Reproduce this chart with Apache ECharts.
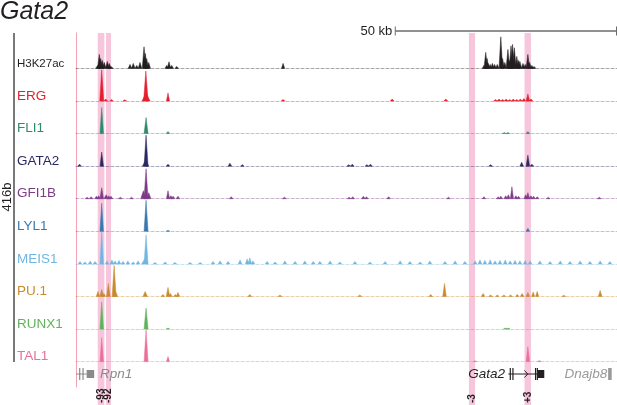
<!DOCTYPE html>
<html>
<head>
<meta charset="utf-8">
<script src="https://cdn.jsdelivr.net/npm/echarts@6/dist/echarts.min.js"></script>
<style>
  html, body { margin: 0; padding: 0; background: #fff; }
  #chart { width: 617px; height: 405px; }
</style>
</head>
<body>
<div id="chart"></div>
<script>
// window shown, in kb from the left edge of the tracks
const spanKb = 122;

const trackNames = ['H3K27ac', 'ERG', 'FLI1', 'GATA2', 'GFI1B', 'LYL1', 'MEIS1', 'PU.1', 'RUNX1', 'TAL1'];
const trackColors = ['#231f20', '#e4202e', '#2f8a6c', '#2a2961', '#7d3a86', '#3b78ae', '#70b6e0', '#c98a2e', '#5fb35a', '#ea6f9b'];

// peaks: [position kb, signal, half width kb (optional)]
const h3k27acPeaks = [
  [4.9, 3, 0.5], [5.25, 14], [5.57, 10], [5.93, 8], [6.38, 6], [7.06, 7], [7.51, 5], [7.9, 2, 0.5],
  [12.18, 4], [12.92, 5], [13.69, 3], [14.43, 6], [15.34, 21.6], [15.63, 15], [15.94, 10], [16.4, 6],
  [20.45, 3], [20.97, 6.6], [21.58, 3], [22.71, 2],
  [46.7, 5, 0.35],
  [92.0, 3], [92.4, 16], [92.7, 10], [92.95, 5], [93.4, 4], [93.9, 5], [94.4, 4], [95.0, 4],
  [95.8, 31.6], [96.2, 10], [96.7, 6], [97.4, 19], [97.8, 8], [98.1, 22.6], [98.45, 24], [98.85, 20.6],
  [99.4, 12], [99.8, 8], [100.1, 7], [100.8, 5], [101.3, 4], [101.9, 14], [102.3, 6], [102.8, 3], [103.3, 2]
];
const ergPeaks = [
  [5.8, 31, 0.45], [6.7, 2], [8.0, 1.5], [11.0, 1.2], [15.8, 8, 0.9], [15.75, 30, 0.5], [20.75, 8, 0.35],
  [46.7, 1.5], [71.3, 2], [83.4, 2], [94.6, 1.5], [95.4, 2], [96.2, 1.5], [97.0, 2], [97.8, 1.5],
  [98.6, 2], [99.4, 1.5], [100.2, 2], [101.0, 2.5], [101.9, 7], [102.6, 2]
];
const fli1Peaks = [
  [5.8, 26], [15.8, 16, 0.45], [20.75, 2], [96.6, 1], [97.4, 1], [101.9, 2]
];
const gata2Peaks = [
  [0.8, 2], [5.8, 14], [15.7, 6, 0.7], [15.8, 31, 0.45], [20.75, 2], [34.7, 3], [37.5, 1.5],
  [61.5, 1.5], [62.3, 2], [65.6, 1.5], [66.4, 2], [93.5, 1.5], [100.5, 4], [101.9, 11], [102.8, 2]
];
const gfi1bPeaks = [
  [2.5, 1.5], [3.4, 2], [4.6, 2.5], [5.1, 3], [5.8, 11], [6.8, 4, 0.5], [7.4, 3], [7.9, 2.5], [10.0, 1.5], [12.5, 1.5],
  [15.2, 8, 0.6], [15.8, 30, 0.45], [16.4, 6, 0.5], [20.75, 8, 0.35], [21.4, 3], [21.9, 2.5], [23.0, 2.5],
  [35.0, 2], [47.0, 1.5], [61.6, 1.5], [62.4, 2], [64.8, 2.5], [65.5, 2], [70.5, 2], [84.0, 1.5],
  [92.0, 2], [95.2, 2], [95.8, 2.5], [96.9, 3], [97.5, 4], [98.3, 12, 0.35], [99.2, 3], [99.8, 2.5],
  [101.4, 4], [101.9, 6], [102.6, 3], [103.2, 2.5], [104.0, 2], [106.5, 1.5], [118.0, 1.5]
];
const lyl1Peaks = [
  [5.8, 28], [15.8, 31, 0.45], [20.75, 1], [101.9, 3]
];
const meis1Peaks = [
  [0.9, 2.5], [2.0, 2], [3.2, 3], [4.3, 2.5], [5.8, 32], [7.0, 3], [8.1, 4], [8.8, 3], [9.7, 3.5],
  [10.6, 2.5], [11.7, 3], [12.9, 2], [14.0, 3], [15.5, 5, 0.7], [15.8, 29, 0.45], [17.8, 1.5], [20.1, 2],
  [22.3, 1.5], [25.7, 1.5], [28.0, 1.5], [30.9, 2.5], [32.5, 3], [34.3, 2.5], [37.0, 4], [38.6, 5],
  [39.2, 6], [39.9, 3], [43.1, 2.5], [44.9, 2], [47.1, 3], [49.4, 2.5], [51.6, 3], [53.5, 2.5],
  [55.0, 2.5], [57.3, 3], [59.5, 2], [62.9, 2.5], [66.3, 2], [69.7, 2.5], [73.1, 3], [75.3, 2.5],
  [77.6, 2], [79.8, 3], [83.2, 2.5], [85.5, 3], [87.7, 2.5], [90.0, 3], [91.1, 4], [92.2, 3.5],
  [93.4, 4], [94.5, 3], [95.6, 3.5], [96.8, 4], [97.9, 3], [99.0, 3.5], [100.1, 3], [101.3, 3.5],
  [102.4, 3], [104.6, 3], [106.9, 2.5], [109.2, 3], [111.4, 2.5], [113.7, 3], [115.9, 2.5], [118.2, 3], [120.4, 2.5]
];
const pu1Peaks = [
  [4.96, 5], [5.8, 7], [6.3, 3], [7.3, 13], [8.6, 31, 0.45], [8.9, 5, 0.5], [15.6, 5, 0.5], [19.6, 2],
  [20.75, 9], [21.3, 3], [22.4, 2], [23.0, 4], [39.2, 2], [46.0, 1.5], [64.0, 1.5],
  [80.0, 2], [83.1, 13], [91.8, 3], [93.5, 1.5], [95.0, 1.5], [96.5, 1.5], [98.0, 1.5], [99.5, 2],
  [100.6, 3], [101.9, 4], [103.1, 4.5, 0.35], [104.0, 5, 0.35], [110.0, 1.2], [118.2, 6]
];
const runx1Peaks = [
  [5.8, 27], [15.8, 21, 0.45], [20.75, 1], [96.8, 1], [97.5, 1]
];
const tal1Peaks = [
  [5.8, 24], [15.8, 32, 0.45], [20.75, 5, 0.35], [90.0, 0.8], [101.9, 15], [104.5, 1]
];
const trackPeaks = [h3k27acPeaks, ergPeaks, fli1Peaks, gata2Peaks, gfi1bPeaks, lyl1Peaks, meis1Peaks, pu1Peaks, runx1Peaks, tal1Peaks];

// highlighted enhancers: [start kb, end kb]
const enhancerNames = ['-93', '-92', '-3', '+3'];
const enhancerRanges = [[4.9, 6.4], [6.77, 7.89], [88.6, 90.0], [101.15, 102.6]];

const scaleBarKb = [72, 122];
const scaleBarLabel = '50 kb';

// gene parts: [start kb, end kb, kind]  kind 0 intron line, 1 exon tick, 2 block, 3 strand arrow
const rpn1Parts = [[0, 2.4, 0], [0.7, 0.95, 1], [1.45, 1.7, 1], [2.4, 4.1, 2]];
const gata2Parts = [[97.5, 104.1, 0], [97.8, 98.05, 1], [98.4, 98.65, 1], [101.1, 101.9, 3], [103.5, 103.75, 1], [103.9, 104.15, 1], [104.1, 105.6, 2]];
const dnajb8Parts = [[120.0, 120.8, 1]];
const geneParts = [rpn1Parts, gata2Parts, dnajb8Parts];
const geneNames = ['Rpn1', 'Gata2', 'Dnajb8'];
const geneLabelPos = [5.4, 96.75, 119.8];
const geneLabelAlign = ['left', 'right', 'right'];
const geneColors = ['#8a8a8a', '#231f20', '#9a9a9a'];

const font = '"Liberation Sans", Arial, sans-serif';
const bandColor = '#f7c6dc';
const plotLeft = 76;
const firstBaseline = 68.4;
const trackStep = 32.58;
const trackHeight = 32;

const grids = [], xAxes = [], yAxes = [], series = [], graphics = [];

function addAxes(gi, yMax, xExtra, yExtra) {
  xAxes.push(Object.assign({
    type: 'value', gridIndex: gi, min: 0, max: spanKb,
    axisLine: { show: false }, axisTick: { show: false }, axisLabel: { show: false }, splitLine: { show: false }
  }, xExtra || {}));
  yAxes.push(Object.assign({
    type: 'value', gridIndex: gi, min: 0, max: yMax,
    axisLine: { show: false }, axisTick: { show: false }, axisLabel: { show: false }, splitLine: { show: false }
  }, yExtra || {}));
}

// tracks
trackNames.forEach((name, i) => {
  const base = firstBaseline + i * trackStep;
  grids.push({ left: plotLeft, right: 0, top: base - trackHeight, height: trackHeight });
  addAxes(i, trackHeight, {
    z: 1,
    axisLine: { show: true, lineStyle: { color: trackColors[i], opacity: 0.4, width: 1, type: [3, 2] } }
  });
  const color = trackColors[i];
  series.push({
    type: 'custom', xAxisIndex: i, yAxisIndex: i, z: 3, silent: true,
    data: trackPeaks[i].map(p => [p[0], p[1], p[2] || 0.4]),
    renderItem: function (params, api) {
      const x = api.value(0), h = api.value(1), w = api.value(2);
      return {
        type: 'polygon',
        shape: { points: [api.coord([x - w, 0]), api.coord([x, h]), api.coord([x + w, 0])] },
        style: { fill: color, stroke: color, lineWidth: 0.5 }
      };
    }
  });
  graphics.push({
    type: 'text', x: 17, y: base - 5,
    style: {
      text: name, fill: color, font: (i === 0 ? '11.5px ' : '13.5px ') + font,
      textAlign: 'left', textVerticalAlign: 'middle'
    }
  });
});

// highlight bands
const bandGrid = grids.length;
grids.push({ left: plotLeft, right: 0, top: 33, bottom: 0 });
addAxes(bandGrid, 1);
series.push({
  type: 'custom', xAxisIndex: bandGrid, yAxisIndex: bandGrid, z: 0, silent: true,
  data: enhancerRanges,
  renderItem: function (params, api) {
    const a = api.coord([api.value(0), 1]), b = api.coord([api.value(1), 0]);
    return { type: 'rect', shape: { x: a[0], y: a[1], width: b[0] - a[0], height: b[1] - a[1] }, style: { fill: bandColor } };
  }
});

// left edge line of the tracks
const frameGrid = grids.length;
grids.push({ left: plotLeft, right: 0, top: 33, height: 354 });
addAxes(frameGrid, 1, null, { z: 1, axisLine: { show: true, lineStyle: { color: '#f3a3b4', width: 1 } } });

// scale bar
const scaleGrid = grids.length;
grids.push({ left: plotLeft, right: 0, top: 24, height: 14 });
addAxes(scaleGrid, 1);
series.push({
  type: 'custom', xAxisIndex: scaleGrid, yAxisIndex: scaleGrid, silent: true,
  data: [scaleBarKb],
  renderItem: function (params, api) {
    const a = api.coord([api.value(0), 0.5]), b = api.coord([api.value(1), 0.5]);
    const ink = '#6b6b6b';
    b[0] = Math.min(b[0], 616.5);
    return {
      type: 'group', children: [
        { type: 'line', shape: { x1: a[0], y1: a[1], x2: b[0], y2: b[1] }, style: { stroke: ink, lineWidth: 1.5 } },
        { type: 'line', shape: { x1: a[0], y1: a[1] - 4.5, x2: a[0], y2: a[1] + 4.5 }, style: { stroke: ink, lineWidth: 1 } },
        { type: 'line', shape: { x1: b[0], y1: b[1] - 4.5, x2: b[0], y2: b[1] + 4.5 }, style: { stroke: ink, lineWidth: 1 } },
        { type: 'text', x: a[0] - 3, y: a[1], style: { text: scaleBarLabel, fill: '#231f20', font: '13px ' + font, textAlign: 'right', textVerticalAlign: 'middle' } }
      ]
    };
  }
});

// gene models
const geneGrid = grids.length;
grids.push({ left: plotLeft, right: 0, top: 366, height: 16 });
addAxes(geneGrid, 1);
geneParts.forEach((parts, g) => {
  const color = geneColors[g];
  series.push({
    type: 'custom', xAxisIndex: geneGrid, yAxisIndex: geneGrid, z: 4, silent: true,
    data: parts,
    renderItem: function (params, api) {
      const a = api.coord([api.value(0), 0.5]), b = api.coord([api.value(1), 0.5]);
      const kind = api.value(2), y = a[1];
      if (kind === 0) {
        return { type: 'line', shape: { x1: a[0], y1: y, x2: b[0], y2: y }, style: { stroke: color, lineWidth: 1 } };
      }
      if (kind === 1) {
        return { type: 'rect', shape: { x: a[0], y: y - 6, width: Math.max(b[0] - a[0], 1.2), height: 12 }, style: { fill: color } };
      }
      if (kind === 2) {
        return { type: 'rect', shape: { x: a[0], y: y - 4, width: b[0] - a[0], height: 8 }, style: { fill: color } };
      }
      return { type: 'polyline', shape: { points: [[a[0], y - 3.5], [b[0], y], [a[0], y + 3.5]] }, style: { stroke: color, lineWidth: 1, fill: null } };
    }
  });
});
series.push({
  type: 'custom', xAxisIndex: geneGrid, yAxisIndex: geneGrid, z: 4, silent: true,
  data: geneLabelPos.map(p => [p]),
  renderItem: function (params, api) {
    const i = params.dataIndex;
    const p = api.coord([api.value(0), 0.5]);
    return {
      type: 'text', x: p[0], y: p[1],
      style: { text: geneNames[i], fill: geneColors[i], font: 'italic 13.5px ' + font, textAlign: geneLabelAlign[i], textVerticalAlign: 'middle' }
    };
  }
});

// enhancer labels under the bands
const labelGrid = grids.length;
grids.push({ left: plotLeft, right: 0, top: 382, bottom: 0 });
addAxes(labelGrid, 1);
series.push({
  type: 'custom', xAxisIndex: labelGrid, yAxisIndex: labelGrid, z: 4, silent: true,
  data: enhancerRanges,
  renderItem: function (params, api) {
    const p = api.coord([(api.value(0) + api.value(1)) / 2, 0]);
    return {
      type: 'text', x: p[0], y: p[1] - 2, rotation: Math.PI / 2,
      style: { text: enhancerNames[params.dataIndex], fill: '#231f20', font: 'bold 10px ' + font, textAlign: 'left', textVerticalAlign: 'middle' }
    };
  }
});

// cell line bracket
graphics.push({
  type: 'line', shape: { x1: 14, y1: 33, x2: 14, y2: 362 },
  style: { stroke: '#4d4d4d', lineWidth: 1.5 }
});
graphics.push({
  type: 'text', x: 7, y: 197, rotation: Math.PI / 2,
  style: { text: '416b', fill: '#231f20', font: '13px ' + font, textAlign: 'center', textVerticalAlign: 'middle' }
});

const chart = echarts.init(document.getElementById('chart'), null, { renderer: 'canvas' });
chart.setOption({
  animation: false,
  backgroundColor: '#fff',
  title: {
    text: 'Gata2', left: 0, top: 0, padding: 0,
    textStyle: { fontSize: 25, fontStyle: 'italic', fontWeight: 'normal', color: '#231f20', fontFamily: font }
  },
  grid: grids,
  xAxis: xAxes,
  yAxis: yAxes,
  series: series,
  graphic: graphics
});
</script>
</body>
</html>
